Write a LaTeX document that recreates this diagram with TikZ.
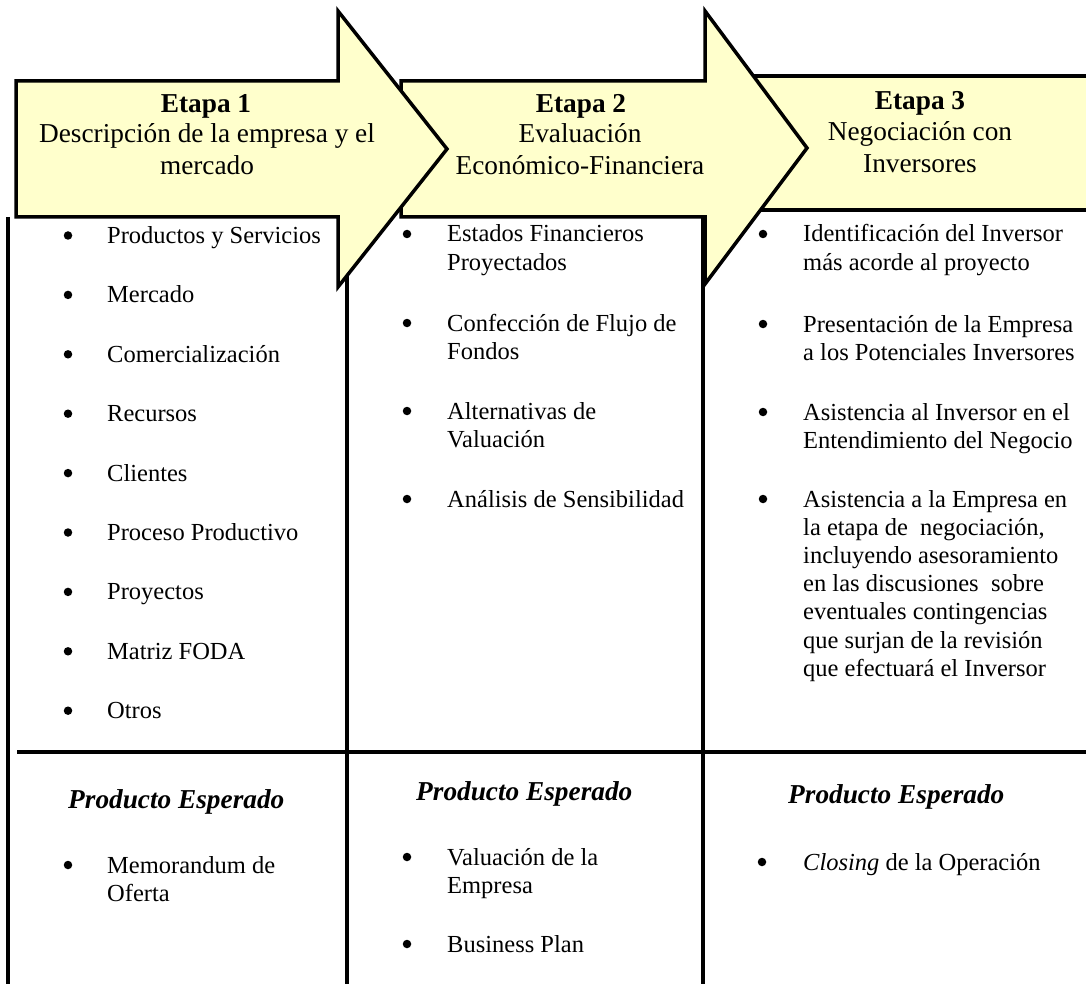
\documentclass[tikz,border=0pt]{standalone}
\usepackage{fontspec}
\setmainfont{Liberation Serif}
\definecolor{arrowfill}{HTML}{FFFFCC}
\tikzset{
  arrowshape/.style={draw=black, line width=3.5pt, fill=arrowfill, line join=miter},
  rulestyle/.style={line width=3.5pt},
  lst/.style={anchor=base west, inner sep=0pt, font=\fontsize{24.5}{28.2}\selectfont},
  bul/.style={circle, fill=black, inner sep=0pt, minimum size=8.5pt, yshift=8pt},
  ttl/.style={anchor=base, inner sep=0pt, font=\fontsize{27.3}{31}\selectfont},
  hdg/.style={anchor=base west, inner sep=0pt, font=\fontsize{27.3}{31}\selectfont\bfseries\itshape},
}
\newcommand{\twol}[2]{\parbox[t]{330pt}{#1\\#2}}
\begin{document}
\begin{tikzpicture}[x=1pt,y=-1pt]
\useasboundingbox (0,0) rectangle (1086,984);
% rules
\draw[rulestyle] (8,217) -- (8,984);
\draw[rulestyle] (347,217) -- (347,984);
\draw[rulestyle] (703,210) -- (703,984);
\draw[rulestyle] (17,752) -- (1086,752);
% stage 3 band
\filldraw[arrowshape] (740,76) rectangle (1100,210);
% stage 2 arrow
\filldraw[arrowshape] (401,81) -- (705,81) -- (705,11) -- (807,148) -- (705,284) -- (705,217) -- (401,217) -- cycle;
% stage 1 arrow
\filldraw[arrowshape] (16,81) -- (338,81) -- (338,11) -- (447,149) -- (338,287) -- (338,217) -- (16,217) -- cycle;
% titles
\node[ttl] (t1a) at (206,113) {\textbf{Etapa 1}};
\node[ttl] (t1b) at (207,143) {Descripción de la empresa y el};
\node[ttl] (t1c) at (207,175) {mercado};
\node[ttl] (t2a) at (581,113) {\textbf{Etapa 2}};
\node[ttl] (t2b) at (580,143) {Evaluación};
\node[ttl] (t2c) at (580,175) {Económico-Financiera};
\node[ttl] (t3a) at (920,110) {\textbf{Etapa 3}};
\node[ttl] (t3b) at (920,141) {Negociación con};
\node[ttl] (t3c) at (920,173) {Inversores};
% column 1
\foreach \txt [count=\i from 0] in {Productos y Servicios,Mercado,Comercialización,Recursos,Clientes,Proceso Productivo,Proyectos,Matriz FODA,Otros}{
  \node[bul] (c1b\i) at (68,243.5+59.4*\i) {};
  \node[lst] (c1t\i) at (107,243.5+59.4*\i) {\txt};
}
% column 2
\node[bul] (c2b1) at (407,242) {};
\node[lst] (c2t1) at (447,242) {\twol{Estados Financieros}{Proyectados}};
\node[bul] (c2b2) at (407,331) {};
\node[lst] (c2t2) at (447,331) {\twol{Confección de Flujo de}{Fondos}};
\node[bul] (c2b3) at (407,419) {};
\node[lst] (c2t3) at (447,419) {\twol{Alternativas de}{Valuación}};
\node[bul] (c2b4) at (407,507) {};
\node[lst] (c2t4) at (447,507) {Análisis de Sensibilidad};
% column 3
\node[bul] (c3b1) at (763,242) {};
\node[lst] (c3t1) at (803,242) {\twol{Identificación del Inversor}{más acorde al proyecto}};
\node[bul] (c3b2) at (763,332) {};
\node[lst] (c3t2) at (803,332) {\twol{Presentación de la Empresa}{a los Potenciales Inversores}};
\node[bul] (c3b3) at (763,420) {};
\node[lst] (c3t3) at (803,420) {\twol{Asistencia al Inversor en el}{Entendimiento del Negocio}};
\node[bul] (c3b4) at (763,507) {};
\node[lst] (c3t4) at (803,507) {\parbox[t]{330pt}{Asistencia a la Empresa en\\la etapa de\ \ negociación,\\incluyendo asesoramiento\\en las discusiones\ \ sobre\\eventuales contingencias\\que surjan de la revisión\\que efectuará el Inversor}};
% expected products
\node[hdg] (h1) at (68,808) {Producto Esperado};
\node[bul] (p1b) at (68,873) {};
\node[lst] (p1t) at (107,873) {\twol{Memorandum de}{Oferta}};
\node[hdg] (h2) at (416,800) {Producto Esperado};
\node[bul] (p2b1) at (407,865) {};
\node[lst] (p2t1) at (447,865) {\twol{Valuación de la}{Empresa}};
\node[bul] (p2b2) at (407,952) {};
\node[lst] (p2t2) at (447,952) {Business Plan};
\node[hdg] (h3) at (788,803) {Producto Esperado};
\node[bul] (p3b) at (762,870) {};
\node[lst] (p3t) at (803,870) {\textit{Closing} de la Operación};
\end{tikzpicture}
\end{document}
